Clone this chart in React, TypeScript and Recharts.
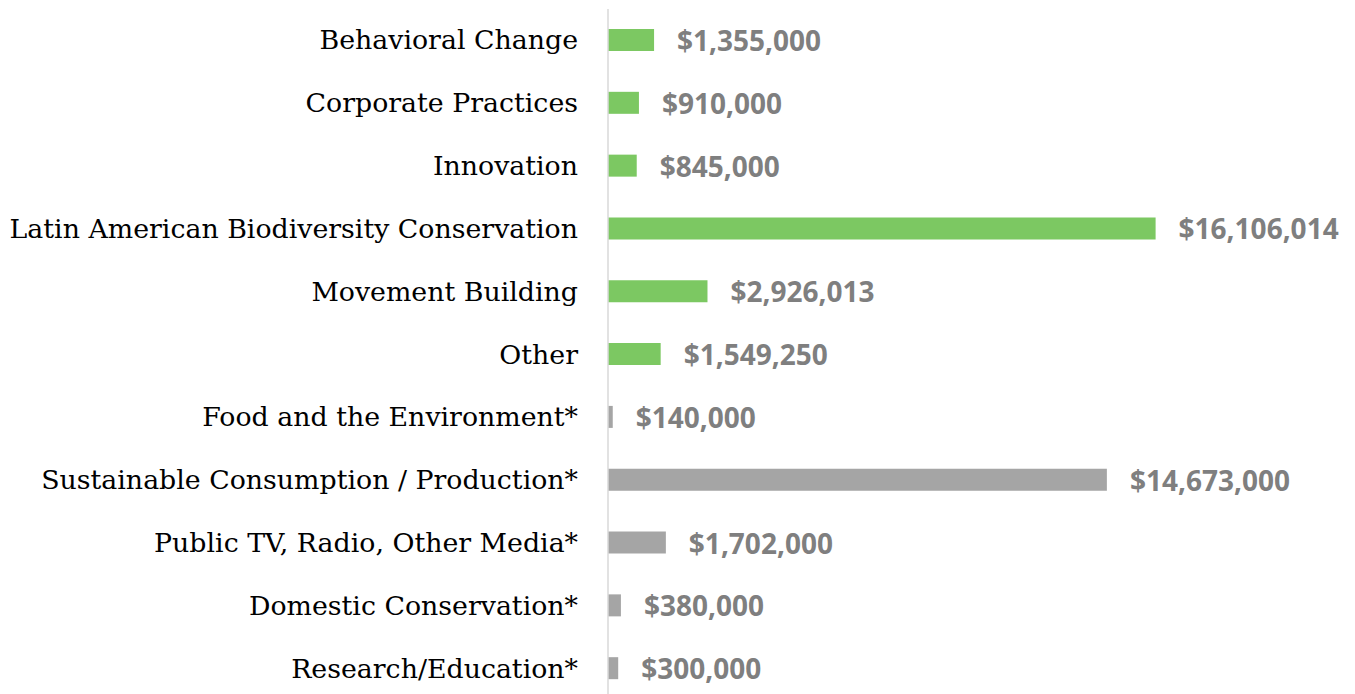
import React from "react";
import { BarChart, Bar, XAxis, YAxis, Cell, LabelList } from "recharts";

const categories = [
  "Behavioral Change",
  "Corporate Practices",
  "Innovation",
  "Latin American Biodiversity Conservation",
  "Movement Building",
  "Other",
  "Food and the Environment*",
  "Sustainable Consumption / Production*",
  "Public TV, Radio, Other Media*",
  "Domestic Conservation*",
  "Research/Education*",
];
const amounts = [1355000, 910000, 845000, 16106014, 2926013, 1549250, 140000, 14673000, 1702000, 380000, 300000];
const groups = ["current", "current", "current", "current", "current", "current", "past", "past", "past", "past", "past"];

const GREEN = "#7cc862";
const GRAY = "#a5a5a5";

const data = categories.map((c, i) => ({ name: c, value: amounts[i], group: groups[i] }));

const fmt = (v: number) => "$" + v.toLocaleString("en-US");

const CatTick = (props: any) => {
  const { y, payload } = props;
  return (
    <text x={578} y={y} dy={9} textAnchor="end" fill="#000" fontFamily="'DejaVu Serif', serif" fontSize={26.8}>
      {payload.value}
    </text>
  );
};

const ValueLabel = (props: any) => {
  const { x, y, width, height, value } = props;
  return (
    <text x={x + width + 23} y={y + height / 2} dy={11} fill="#7f7f7f" fontFamily="'Open Sans', sans-serif" fontWeight={700} fontSize={28}>
      {fmt(value)}
    </text>
  );
};

export default function App() {
  return (
    <div style={{ position: "absolute", left: 0, top: 0, width: 1355, height: 694, overflow: "hidden", background: "#fff" }}>
      <BarChart
        width={1355}
        height={700}
        data={data}
        layout="vertical"
        margin={{ top: 9, right: 135, bottom: 0, left: 0 }}
        barSize={22}
      >
        <XAxis type="number" domain={[0, 18000000]} hide />
        <YAxis
          type="category"
          dataKey="name"
          width={608}
          axisLine={{ stroke: "#d9d9d9", strokeWidth: 1.5 }}
          tickLine={false}
          tick={<CatTick />}
          interval={0}
        />
        <Bar dataKey="value" isAnimationActive={false}>
          {data.map((d, i) => (
            <Cell key={i} fill={d.group === "current" ? GREEN : GRAY} />
          ))}
          <LabelList dataKey="value" content={<ValueLabel />} />
        </Bar>
      </BarChart>
    </div>
  );
}
